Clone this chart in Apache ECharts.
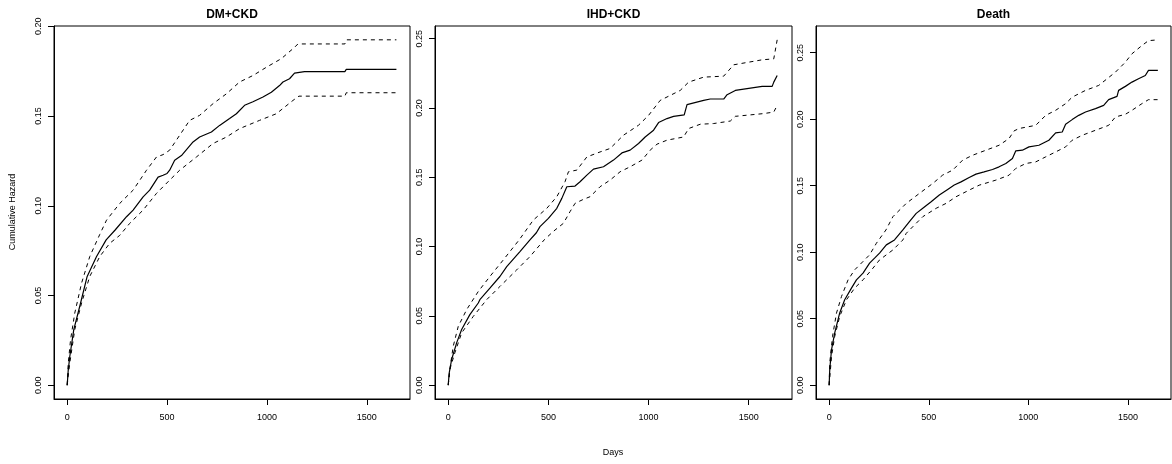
<!DOCTYPE html>
<html>
<head>
<meta charset="utf-8">
<script src="https://cdn.jsdelivr.net/npm/echarts/dist/echarts.min.js"></script>
<style>
  html, body { margin: 0; padding: 0; background: #fff; }
  #chart { width: 1172px; height: 464px; }
</style>
</head>
<body>
<div id="chart"></div>
<script>
// panel titles and tick labels
var panelTitles = ['DM+CKD', 'IHD+CKD', 'Death'];
var xTicks = [0, 500, 1000, 1500];
var yTicks1 = [0, 0.05, 0.10, 0.15, 0.20];
var yTicks2 = [0, 0.05, 0.10, 0.15, 0.20, 0.25];
var yTicks3 = [0, 0.05, 0.10, 0.15, 0.20, 0.25];

// DM+CKD: estimate, upper and lower band  [days, cumulative hazard]
var dmEst = [[0,0],[5,0.008],[13,0.016],[33,0.031],[63,0.044],[100,0.0606],[147,0.0717],[195,0.081],[240,0.0865],[297,0.0939],[330,0.0976],[380,0.105],[413,0.1087],[455,0.116],[480,0.117],[500,0.118],[513,0.1198],[538,0.1254],[572,0.128],[630,0.1356],[663,0.1383],[722,0.1411],[763,0.1448],[813,0.1486],[847,0.1513],[888,0.156],[930,0.158],[980,0.1606],[1022,0.1633],[1063,0.167],[1080,0.169],[1113,0.1708],[1138,0.1739],[1188,0.1748],[1390,0.1748],[1397,0.176],[1648,0.176]];
var dmUp = [[0,0],[5,0.012],[17,0.0254],[38,0.0402],[72,0.0569],[113,0.0717],[163,0.084],[197,0.092],[263,0.1013],[330,0.1087],[397,0.1198],[447,0.1272],[480,0.1285],[513,0.131],[563,0.1393],[613,0.1476],[663,0.1504],[730,0.1569],[797,0.1624],[863,0.169],[930,0.1726],[997,0.1772],[1072,0.182],[1138,0.1883],[1155,0.1902],[1390,0.1902],[1397,0.1925],[1648,0.1925]];
var dmLo = [[0,0],[5,0.005],[13,0.0124],[38,0.031],[72,0.0458],[113,0.0606],[163,0.0717],[213,0.0791],[263,0.0835],[313,0.0902],[380,0.0976],[447,0.1069],[513,0.1143],[563,0.1198],[647,0.1272],[730,0.1347],[797,0.1383],[863,0.143],[963,0.1476],[1047,0.1513],[1130,0.1587],[1160,0.1611],[1390,0.1611],[1397,0.163],[1648,0.163]];

// IHD+CKD
var ihdEst = [[0,0],[5,0.0089],[17,0.0185],[42,0.0305],[67,0.0401],[108,0.0509],[150,0.0593],[158,0.0617],[208,0.07],[258,0.0784],[292,0.0856],[358,0.0964],[408,0.1048],[440,0.11],[458,0.1144],[500,0.1204],[542,0.1276],[567,0.1348],[592,0.1432],[633,0.1437],[658,0.1468],[692,0.1516],[725,0.1559],[775,0.1576],[825,0.1624],[867,0.1676],[908,0.1696],[950,0.1744],[983,0.1791],[1025,0.184],[1050,0.1895],[1092,0.1924],[1125,0.194],[1178,0.195],[1192,0.2024],[1275,0.2055],[1308,0.2065],[1375,0.2065],[1392,0.2096],[1433,0.2127],[1567,0.2156],[1617,0.2156],[1625,0.2187],[1642,0.2235]];
var ihdUp = [[0,0],[8,0.0113],[25,0.0281],[50,0.0424],[92,0.0545],[150,0.0676],[208,0.0784],[275,0.0904],[355,0.105],[425,0.1192],[492,0.1276],[542,0.136],[583,0.1468],[600,0.154],[608,0.154],[642,0.1552],[692,0.1647],[758,0.1683],[808,0.1708],[875,0.1804],[950,0.1876],[1000,0.1947],[1058,0.2055],[1158,0.2127],[1200,0.2187],[1275,0.2223],[1375,0.223],[1425,0.2312],[1567,0.2348],[1625,0.2355],[1642,0.2492]];
var ihdLo = [[0,0],[8,0.0113],[33,0.0233],[67,0.0377],[125,0.0496],[192,0.0617],[258,0.0712],[342,0.0832],[408,0.0928],[480,0.105],[525,0.111],[575,0.1168],[608,0.1252],[633,0.1312],[675,0.1341],[708,0.136],[758,0.1432],[808,0.148],[858,0.154],[908,0.1576],[967,0.1624],[1008,0.1696],[1042,0.1739],[1092,0.1768],[1175,0.1791],[1200,0.1852],[1258,0.1883],[1325,0.1888],[1408,0.1906],[1433,0.194],[1575,0.196],[1625,0.1971],[1642,0.2019]];

// Death
var deathEst = [[0,0],[3,0.0118],[12,0.0268],[28,0.0393],[53,0.0543],[78,0.0642],[112,0.073],[137,0.0792],[170,0.0843],[203,0.0918],[228,0.0955],[253,0.0993],[287,0.1055],[328,0.1092],[370,0.1167],[403,0.1229],[437,0.1292],[470,0.133],[512,0.1379],[553,0.143],[595,0.1472],[628,0.1505],[662,0.1529],[703,0.1562],[737,0.1587],[778,0.1604],[820,0.1622],[853,0.1642],[887,0.1667],[920,0.1705],[937,0.1762],[970,0.1767],[1003,0.1792],[1053,0.1804],[1103,0.1842],[1137,0.1897],[1170,0.1904],[1187,0.1962],[1220,0.1997],[1253,0.2029],[1287,0.2054],[1337,0.208],[1378,0.2104],[1403,0.2147],[1445,0.2172],[1453,0.2217],[1487,0.2247],[1520,0.2279],[1553,0.2304],[1587,0.2329],[1603,0.2367],[1650,0.2367]];
var deathUp = [[0,0],[3,0.0168],[17,0.0367],[37,0.0543],[62,0.0667],[95,0.0792],[128,0.0867],[162,0.0918],[203,0.098],[237,0.1067],[285,0.1167],[320,0.1267],[387,0.1367],[453,0.1442],[520,0.1517],[570,0.158],[620,0.1617],[670,0.1692],[720,0.1729],[787,0.1767],[853,0.1804],[903,0.1855],[928,0.1912],[953,0.193],[1037,0.1954],[1087,0.2029],[1137,0.2067],[1187,0.2117],[1220,0.2166],[1287,0.2217],[1353,0.2254],[1437,0.2354],[1487,0.2429],[1520,0.2492],[1570,0.2554],[1603,0.2591],[1653,0.2597]];
var deathLo = [[0,0],[12,0.0217],[28,0.0367],[53,0.0517],[87,0.0642],[128,0.073],[170,0.0792],[220,0.088],[253,0.0942],[320,0.1017],[370,0.1092],[387,0.1142],[420,0.1192],[470,0.1267],[537,0.133],[587,0.1367],[637,0.1417],[703,0.1467],[753,0.1504],[837,0.1542],[903,0.1579],[937,0.163],[987,0.1667],[1037,0.1679],[1087,0.1717],[1137,0.1754],[1187,0.1792],[1220,0.1842],[1270,0.1879],[1337,0.1917],[1403,0.1954],[1437,0.2017],[1487,0.2037],[1520,0.2067],[1570,0.2117],[1603,0.2147],[1653,0.2147]];

var FONT = 'Liberation Sans, Arial, Helvetica, sans-serif';

var panels = [
  { left: 54,  width: 356, yMin: -0.0077, yMax: 0.2002, yTicks: yTicks1, est: dmEst,    up: dmUp,    lo: dmLo },
  { left: 435, width: 357, yMin: -0.0100, yMax: 0.2592, yTicks: yTicks2, est: ihdEst,   up: ihdUp,   lo: ihdLo },
  { left: 816, width: 355, yMin: -0.0104, yMax: 0.2701, yTicks: yTicks3, est: deathEst, up: deathUp, lo: deathLo }
];

var grids = [], xAxes = [], yAxes = [], series = [], graphics = [];

panels.forEach(function (p, i) {
  grids.push({
    left: p.left, top: 26, width: p.width, height: 373,
    show: true, borderColor: '#000', borderWidth: 1, backgroundColor: 'transparent'
  });
  xAxes.push({
    gridIndex: i, type: 'value', min: -66, max: 1716, position: 'bottom',
    axisLine: { show: true, onZero: false, lineStyle: { color: '#000', width: 1 } },
    splitLine: { show: false },
    axisTick: { show: true, length: 6, lineStyle: { color: '#000' }, customValues: xTicks },
    axisLabel: {
      customValues: xTicks, margin: 14, color: '#000', fontSize: 9, fontFamily: FONT,
      formatter: function (v) { return String(v); }
    }
  });
  yAxes.push({
    gridIndex: i, type: 'value', min: p.yMin, max: p.yMax, position: 'left',
    axisLine: { show: true, onZero: false, lineStyle: { color: '#000', width: 1 } },
    splitLine: { show: false },
    axisTick: { show: true, length: 6, lineStyle: { color: '#000' }, customValues: p.yTicks },
    axisLabel: {
      customValues: p.yTicks, rotate: 90, margin: 11, color: '#000', fontSize: 9, fontFamily: FONT,
      formatter: function (v) { return v.toFixed(2); }
    }
  });
  var lines = [
    { data: p.est, type: 'solid', w: 1.2 },
    { data: p.up,  type: [4, 4],  w: 1 },
    { data: p.lo,  type: [4, 4],  w: 1 }
  ];
  lines.forEach(function (l) {
    series.push({
      type: 'line', xAxisIndex: i, yAxisIndex: i,
      data: l.data, symbol: 'none', silent: true,
      lineStyle: { color: '#000', width: l.w, type: l.type }
    });
  });
  graphics.push({
    type: 'text', x: p.left + p.width / 2, y: 15,
    style: { text: panelTitles[i], fill: '#000', font: 'bold 12px ' + FONT, textAlign: 'center', textVerticalAlign: 'middle' }
  });
});

graphics.push({
  type: 'text', x: 13, y: 212, rotation: Math.PI / 2,
  style: { text: 'Cumulative Hazard', fill: '#000', font: '9px ' + FONT, textAlign: 'center', textVerticalAlign: 'middle' }
});
graphics.push({
  type: 'text', x: 613, y: 453,
  style: { text: 'Days', fill: '#000', font: '9px ' + FONT, textAlign: 'center', textVerticalAlign: 'middle' }
});

var chart = echarts.init(document.getElementById('chart'));
chart.setOption({
  animation: false,
  backgroundColor: '#fff',
  grid: grids,
  xAxis: xAxes,
  yAxis: yAxes,
  series: series,
  graphic: graphics
});
</script>
</body>
</html>
